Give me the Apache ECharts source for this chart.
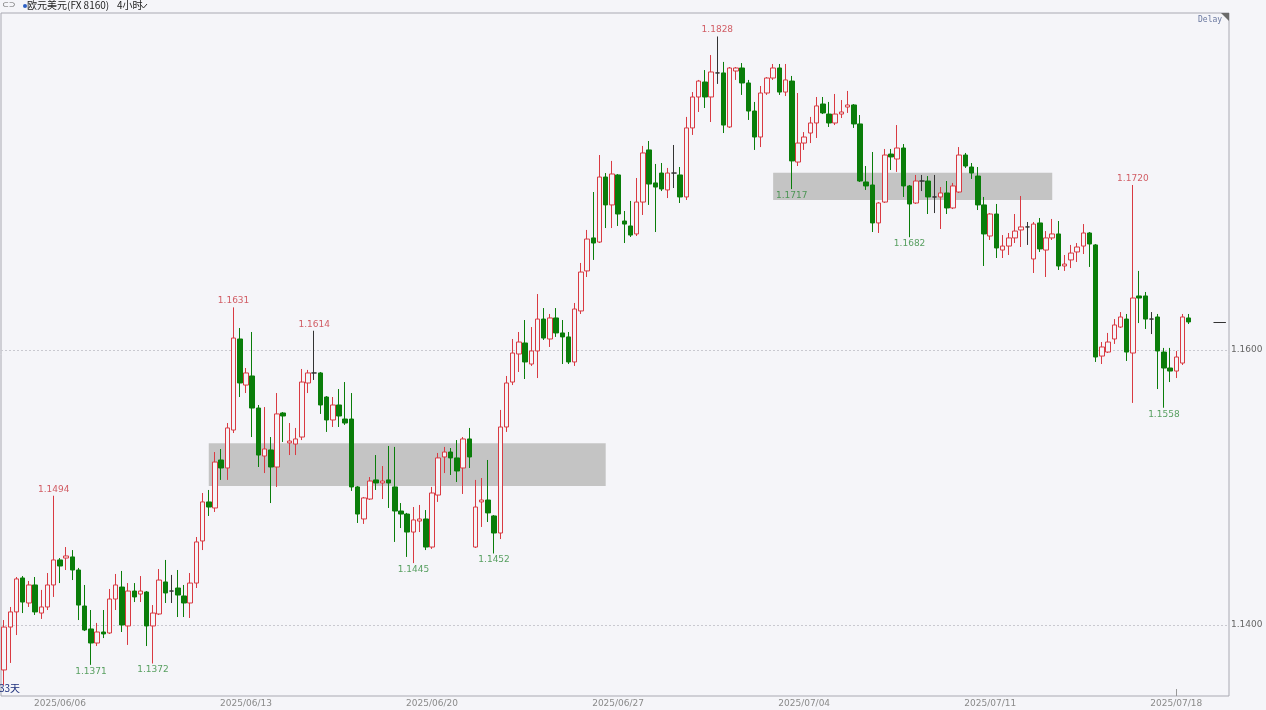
<!DOCTYPE html>
<html><head><meta charset="utf-8">
<script src="https://cdn.jsdelivr.net/npm/echarts@6/dist/echarts.min.js"></script>
<style>html,body{margin:0;padding:0;background:#f5f5f9;}#c{width:1266px;height:710px;}</style>
</head><body><div id="c"></div>
<script>
// ---- data ----
const tickLabels = ['2025/06/06','2025/06/13','2025/06/20','2025/06/27','2025/07/04','2025/07/11','2025/07/18'];
const firstTickBar = 9, barsPerWeek = 30, slotCount = 198;

const open = [1.13673,1.13985,1.14095,1.14342,1.1416,1.14291,1.14087,1.14131,1.14291,1.14473,
1.14487,1.14495,1.144,1.14138,1.13971,1.13869,1.13949,1.13942,1.14189,1.14276,
1.13993,1.14247,1.14225,1.1424,1.13993,1.1408,1.14313,1.14247,1.14269,1.14211,
1.1416,1.14305,1.14611,1.14895,1.14851,1.152,1.15142,1.15418,1.1608,1.15745,
1.15811,1.15578,1.15229,1.15273,1.15149,1.15542,1.15324,1.15316,1.15367,1.1576,
1.15833,1.15833,1.15658,1.15491,1.156,1.15498,1.15498,1.15004,1.14771,1.14916,
1.15055,1.15033,1.15055,1.15004,1.14829,1.14807,1.14676,1.14756,1.14771,1.14567,
1.14945,1.15222,1.15258,1.15215,1.15142,1.15353,1.14567,1.14895,1.14909,1.14793,
1.14669,1.1544,1.15767,1.15971,1.16051,1.15898,1.15993,1.16225,1.1608,1.16233,
1.16124,1.16095,1.15913,1.16284,1.16575,1.16815,1.16785,1.17258,1.17055,1.17273,
1.16938,1.16902,1.16844,1.17076,1.17455,1.17215,1.17287,1.17164,1.17287,1.17273,
1.17113,1.17615,1.1784,1.17949,1.1784,1.18015,1.18015,1.17622,1.18029,1.18051,
1.17942,1.17738,1.17549,1.17869,1.17978,1.18051,1.17876,1.17956,1.17367,1.17505,
1.17578,1.17651,1.17789,1.17716,1.17651,1.17716,1.17767,1.17782,1.17644,1.17222,
1.172,1.16924,1.17076,1.17425,1.17389,1.17469,1.17193,1.17069,1.17229,1.17229,
1.17113,1.17113,1.17142,1.17033,1.17149,1.17418,1.17331,1.17265,1.17055,1.16829,
1.16989,1.16727,1.16756,1.16815,1.16873,1.16895,1.16662,1.16924,1.16727,1.16815,
1.16844,1.16611,1.16655,1.16713,1.16756,1.16851,1.16764,1.15956,1.15985,1.1608,
1.16167,1.16225,1.15978,1.16393,1.16393,1.16225,1.1624,1.15985,1.15869,1.15847,
1.15905,1.16233];
const close = [1.13985,1.14095,1.14335,1.14167,1.14291,1.14095,1.14131,1.14291,1.14473,1.14429,
1.14502,1.144,1.14145,1.13964,1.13869,1.13949,1.13935,1.14189,1.14291,1.14,
1.14247,1.14204,1.14247,1.13993,1.14087,1.14327,1.14233,1.14247,1.14218,1.1416,
1.14305,1.14604,1.14895,1.14858,1.15185,1.15142,1.15433,1.16087,1.1576,1.15833,
1.15578,1.15236,1.1528,1.15149,1.15535,1.1552,1.15338,1.15353,1.15767,1.15833,
1.15833,1.156,1.15491,1.156,1.1552,1.15469,1.15004,1.14807,1.14924,1.15047,
1.15033,1.15047,1.15033,1.14829,1.14807,1.14676,1.14764,1.14771,1.14567,1.1496,
1.15215,1.15258,1.15215,1.1512,1.15353,1.15222,1.14858,1.14909,1.14815,1.14669,
1.1544,1.1576,1.15978,1.16058,1.15913,1.15993,1.16225,1.16087,1.16233,1.16124,
1.16095,1.15913,1.16298,1.16567,1.16807,1.16778,1.17258,1.17055,1.1728,1.16989,
1.16916,1.16836,1.17076,1.17433,1.17207,1.17185,1.17171,1.17287,1.17287,1.17113,
1.17615,1.1784,1.17956,1.1784,1.18022,1.18015,1.17636,1.18051,1.18051,1.17942,
1.17738,1.17549,1.17869,1.17978,1.18051,1.17876,1.17964,1.17375,1.17505,1.17549,
1.17651,1.17775,1.17724,1.17651,1.17716,1.17731,1.17782,1.17644,1.17229,1.17193,
1.16924,1.17069,1.17418,1.17404,1.17469,1.17193,1.17062,1.17229,1.17229,1.17113,
1.17113,1.17142,1.17033,1.17193,1.17418,1.17338,1.17287,1.17055,1.16844,1.16989,
1.16742,1.16756,1.16815,1.16865,1.16895,1.16895,1.16916,1.16735,1.16815,1.16844,
1.16611,1.16625,1.16705,1.16749,1.16851,1.16771,1.15949,1.16022,1.16058,1.16182,
1.1624,1.15985,1.16378,1.16378,1.16225,1.16225,1.15993,1.15869,1.15847,1.15949,
1.1624,1.16204];
const low = [1.13564,1.13724,1.13927,1.14087,1.14131,1.14073,1.14044,1.14109,1.14204,1.14305,
1.144,1.14327,1.14036,1.13956,1.1371,1.13847,1.13905,1.13935,1.14109,1.13949,
1.13855,1.14167,1.14167,1.13847,1.1372,1.14073,1.1416,1.1416,1.14058,1.14058,
1.14051,1.14269,1.14545,1.14793,1.14822,1.15055,1.15055,1.15396,1.15658,1.15687,
1.15367,1.15149,1.15105,1.14887,1.15004,1.15331,1.15236,1.15236,1.15345,1.15687,
1.15782,1.15535,1.15404,1.1544,1.1544,1.15455,1.14975,1.14742,1.14735,1.14909,
1.14982,1.14916,1.14851,1.14604,1.14705,1.14495,1.1445,1.14676,1.14545,1.14553,
1.14895,1.15105,1.15091,1.1504,1.14953,1.15142,1.1456,1.14713,1.14749,1.1452,
1.14625,1.15404,1.15745,1.1584,1.15789,1.15884,1.15796,1.16073,1.16022,1.16095,
1.15898,1.15898,1.15884,1.16262,1.16531,1.16655,1.16778,1.16887,1.16887,1.16902,
1.16778,1.16822,1.16829,1.16982,1.17055,1.16858,1.17156,1.17105,1.17178,1.17069,
1.17091,1.17564,1.17731,1.1776,1.17658,1.17935,1.17578,1.17615,1.17964,1.17855,
1.17673,1.17455,1.17476,1.17855,1.17964,1.17855,1.17847,1.1717,1.17338,1.17455,
1.17505,1.17542,1.17716,1.17622,1.17636,1.17687,1.17724,1.17615,1.17222,1.17164,
1.16858,1.16851,1.17069,1.17309,1.17295,1.17113,1.1682,1.17062,1.17156,1.16989,
1.16996,1.1688,1.16989,1.17025,1.17142,1.17324,1.17244,1.17018,1.16611,1.168,
1.16669,1.16669,1.16691,1.16778,1.16749,1.16764,1.1656,1.16713,1.16531,1.168,
1.16582,1.16575,1.16596,1.1664,1.16698,1.16604,1.15913,1.15898,1.15978,1.16044,
1.1616,1.1592,1.15615,1.16196,1.16153,1.16116,1.15716,1.1558,1.15767,1.15796,
1.15891,1.16189];
const high = [1.14036,1.14131,1.14349,1.14356,1.1432,1.14349,1.14255,1.14378,1.1494,1.14487,
1.14567,1.14545,1.14415,1.14291,1.14109,1.14015,1.14109,1.14262,1.14371,1.14393,
1.14305,1.14305,1.14356,1.14247,1.14145,1.14407,1.14473,1.14364,1.144,1.14291,
1.14378,1.1464,1.1496,1.14982,1.15258,1.1528,1.15469,1.1631,1.1616,1.15869,
1.16131,1.156,1.15585,1.15367,1.15687,1.15549,1.15469,1.15433,1.15862,1.15855,
1.1614,1.1584,1.15665,1.15658,1.15716,1.15767,1.15687,1.15011,1.14931,1.15076,
1.15236,1.15156,1.15302,1.15295,1.14887,1.14815,1.14858,1.14873,1.14836,1.15004,
1.15251,1.15295,1.15287,1.15345,1.15367,1.15433,1.15055,1.15069,1.152,1.148,
1.15564,1.15811,1.1608,1.16131,1.16218,1.16167,1.16407,1.16305,1.16262,1.16305,
1.16218,1.16131,1.16342,1.16633,1.16873,1.17149,1.17418,1.17287,1.17375,1.1728,
1.17011,1.17084,1.17251,1.17484,1.1752,1.17353,1.1736,1.17324,1.17491,1.17331,
1.17695,1.17876,1.17964,1.18036,1.18145,1.1828,1.18095,1.18058,1.18058,1.18087,
1.17964,1.17804,1.1792,1.17985,1.1808,1.1808,1.1808,1.17993,1.17869,1.17585,
1.17695,1.1784,1.1784,1.17804,1.17862,1.17818,1.17884,1.17789,1.17709,1.17338,
1.1744,1.17076,1.17462,1.17462,1.17636,1.17498,1.172,1.17273,1.17273,1.17265,
1.17273,1.17185,1.17229,1.17215,1.17476,1.17433,1.1736,1.17331,1.17113,1.16996,
1.17062,1.16836,1.16851,1.16989,1.1712,1.16931,1.16931,1.1696,1.16865,1.16953,
1.16938,1.16691,1.16764,1.16778,1.16916,1.16858,1.16771,1.16058,1.16124,1.16225,
1.16276,1.16262,1.172,1.16575,1.16422,1.16276,1.16262,1.16015,1.16015,1.15993,
1.16262,1.16262];

const yTickValues = [1.14, 1.16];
const peakIdx = [8, 37, 50, 115, 182];
const troughIdx = [14, 24, 66, 79, 127, 146, 187];
const zoneFrom = [33, 124], zoneTo = [97, 169];
const zoneTop = [1.15321, 1.17289], zoneBottom = [1.15011, 1.17091];
const yMin = 1.134836, yMax = 1.184509;

// ---- styles ----
const BG = '#f5f5f9', UP = '#d93a42', DOWN = '#0a7d0a', DOJI = '#333333';
const FONT = 'DejaVu Sans';

const categories = Array.from({length: slotCount}, (_, i) => String(i));
const labelAt = {};
tickLabels.forEach((t, k) => { labelAt[firstTickBar + k * barsPerWeek] = t; });
const lastTickBar = firstTickBar + (tickLabels.length - 1) * barsPerWeek;
const lastIdx = close.length - 1;

const candleData = open.map((o, i) => {
  const v = [o, close[i], low[i], high[i]];
  return o === close[i] ? {value: v, itemStyle: {borderColor: DOJI, borderColor0: DOJI}} : v;
});

const chart = echarts.init(document.getElementById('c'), null, {renderer: 'canvas'});
chart.setOption({
  backgroundColor: BG,
  animation: false,
  grid: {left: 1, right: 37, top: 13, bottom: 14, show: true, borderColor: '#a9a9b2', borderWidth: 1, backgroundColor: 'transparent'},
  xAxis: {
    type: 'category', data: categories, boundaryGap: true,
    axisLine: {show: false},
    axisTick: {show: true, inside: true, length: 7, alignWithLabel: true, interval: (i) => i === lastTickBar, lineStyle: {color: '#999'}},
    axisLabel: {interval: (i) => labelAt[i] !== undefined, formatter: (v, i) => labelAt[i] || '', color: '#8a8a8a', fontFamily: FONT, fontSize: 9, margin: 3},
    splitLine: {show: false}
  },
  yAxis: {
    type: 'value', position: 'right', min: yMin, max: yMax, scale: true,
    axisLine: {show: false}, axisTick: {show: false}, splitLine: {show: false},
    axisLabel: {customValues: yTickValues, formatter: (v) => v.toFixed(4), color: '#666', fontFamily: FONT, fontSize: 9, margin: 2}
  },
  series: [
    {
      type: 'candlestick', data: candleData, barWidth: 5, z: 3,
      itemStyle: {color: BG, color0: DOWN, borderColor: UP, borderColor0: DOWN, borderWidth: 1},
      markArea: {
        silent: true, z: 1,
        itemStyle: {color: '#c4c4c4', opacity: 1},
        data: zoneFrom.map((f, k) => [{xAxis: f, yAxis: zoneTop[k]}, {xAxis: zoneTo[k], yAxis: zoneBottom[k]}])
      },
      markLine: {
        silent: true, z: 1, symbol: ['none', 'none'], label: {show: false},
        lineStyle: {type: [2, 2], color: '#c9c9d0', width: 1},
        data: yTickValues.map(v => ({yAxis: v})).concat([[
          {coord: [lastIdx + 4, close[lastIdx]], lineStyle: {type: 'solid', color: '#333', width: 1}},
          {coord: [slotCount - 1, close[lastIdx]]}
        ]])
      }
    },
    {
      type: 'scatter', symbolSize: 0, z: 4, silent: true,
      data: peakIdx.map(i => [i, high[i]]),
      label: {show: true, position: 'top', distance: 2, formatter: (p) => p.value[1].toFixed(4), color: '#c8363e', fontFamily: FONT, fontSize: 9}
    },
    {
      type: 'scatter', symbolSize: 0, z: 4, silent: true,
      data: troughIdx.map(i => [i, low[i]]),
      label: {show: true, position: 'bottom', distance: 2, formatter: (p) => p.value[1].toFixed(4), color: '#2f8a3a', fontFamily: FONT, fontSize: 9}
    }
  ],
  graphic: [
    {type: 'text', left: 2, top: 1, style: {text: '⊂⊃', fill: '#666', font: '8px "DejaVu Sans"'}},
    {type: 'circle', shape: {cx: 25, cy: 6, r: 2}, style: {fill: '#2c5fc4'}},
    {type: 'text', left: 27, top: 0, style: {text: '欧元美元(FX 8160)', fill: '#222', font: '10px "Noto Sans CJK SC"'}},
    {type: 'text', left: 117, top: 0, style: {text: '4小时', fill: '#222', font: '10px "Noto Sans CJK SC"'}},
    {type: 'polyline', shape: {points: [[140, 4], [143.5, 8], [147, 4]]}, style: {stroke: '#333', lineWidth: 1, fill: null}},
    {type: 'text', left: 1198, top: 16, style: {text: 'Delay', fill: '#6a78a0', font: '8px "DejaVu Sans Mono"'}},
    {type: 'polygon', shape: {points: [[1221, 13], [1229, 13], [1229, 21]]}, style: {fill: '#6b6b6b'}},
    {type: 'text', left: -1, top: 683, style: {text: '33天', fill: '#1c2f7c', font: '10px "Noto Sans CJK SC"'}}
  ]
});
</script>
</body></html>
